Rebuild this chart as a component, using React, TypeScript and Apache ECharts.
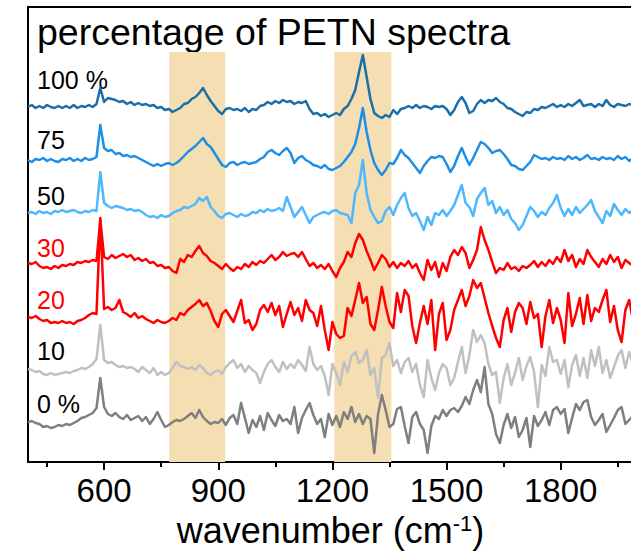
import { useEffect, useRef } from "react";
import * as echarts from "echarts";

// wavenumber sampling grid (cm^-1), 10 cm^-1 step
const wavenumber: number[] = Array.from({ length: 160 }, (_, i) => 400 + 10 * i);

const seriesLabels = ["0 %", "10", "20", "30", "50", "75", "100 %"];

// intensities (arbitrary units), one row per 100 cm^-1
const s0 = [
  0, 1, -1, -2, -5, -4, -6, -5, -3, -4,
  -2, -3, -1, 1, 4, 5, 7, 9, 14, 44,
  15, 8, 6, 9, 5, 3, 7, 2, 4, 6,
  1, 5, -2, 3, 10, 2, -5, -3, 0, 2,
  1, 3, 6, 9, 4, 12, 5, 1, -2, 0,
  -1, 3, -3, 4, 7, -2, 19, 4, -11, 2,
  -5, 6, -8, 9, 2, -4, 7, 1, 3, -2,
  15, -11, 4, 12, 19, 7, -2, 3, -15, 8,
  -3, 6, -5, 10, 3, 15, 0, 8, -2, 6,
  3, -31, 8, 27, 12, -5, -2, 13, 15, -4,
  -21, 5, 10, -2, -8, -31, -4, 6, 3, 12,
  6, 12, 14, 10, 16, 25, 18, 32, 42, 30,
  55, 18, 8, -12, -21, -3, 8, -6, 5, -15,
  -8, 4, -25, 6, -4, 2, 10, -3, 12, 15,
  8, 13, -11, 4, 18, 12, 20, 22, 5, -3,
  2, 8, -10, -3, 4, 12, 15, -2, 2, 6,
];
const s10 = [
  1, 0, -2, -1, -4, -5, -3, -5, -4, -3,
  -2, -3, -1, 0, 2, 1, 3, 6, 11, 45,
  10, 7, 8, 5, 3, 4, 2, 3, 1, -2,
  3, 0, -3, 2, -5, -2, -5, -3, 2, 8,
  4, 3, 1, 3, 0, 5, 2, -3, -5, -2,
  0, -4, 3, 7, 10, 2, 6, -2, 4, 0,
  -3, -13, -2, 6, 10, 3, -2, 8, 1, 6,
  2, 10, 5, -1, 23, 6, 0, 4, -6, -25,
  6, -3, -15, 8, -2, 14, 18, 7, 10, 20,
  -5, 2, -28, 12, 15, 27, 4, 10, -3, 8,
  12, -2, 6, -15, -27, 10, -8, -20, -3, 6,
  2, -15, -8, 8, 23, -3, 15, 40, 28, 35,
  27, 6, -5, -2, -33, -8, 6, -15, -3, 12,
  -10, 4, 13, -2, -37, 5, -6, 23, 8, 10,
  -4, 10, -17, 5, 15, -6, 12, -8, 20, 4,
  23, -3, 10, -8, 3, 14, 20, 2, 18, 6,
];
const s20 = [
  1, 0, 2, -1, -3, -2, -5, -4, -5, -3,
  -5, -4, -6, -3, -2, 0, 3, 5, 4, 100,
  9, 11, 8, 10, 18, 6, 4, 1, 5, 0,
  2, -1, -3, -5, -2, -4, -5, -3, 0, -2,
  5, 3, 8, 11, 14, 18, 12, 15, 7, -3,
  -9, 4, 8, 2, -4, 7, 18, -5, -2, -12,
  -6, 8, 13, 6, 15, 3, 12, -9, 4, 16,
  3, 10, -3, 18, 8, 5, -8, 12, -12, -32,
  -4, -16, -20, -18, 10, 2, 18, 35, 15, 21,
  -6, -12, 8, 31, 12, -4, -10, 25, 6, 28,
  22, -8, -25, -5, 12, -6, 18, -32, 4, 15,
  -22, -12, 8, 18, 28, 12, 22, 38, 30, 35,
  20, 5, -8, -20, -29, -2, 10, -14, 6, 15,
  10, -6, 16, 0, 4, -29, 2, 18, -5, 10,
  -2, -25, 25, -8, 4, 20, -6, 23, -3, 10,
  6, 18, 28, -4, 12, -12, -24, 8, 18, -3,
];
const s30 = [
  2, 1, 3, -1, -3, -2, -4, -1, -3, 0,
  -1, 1, 0, 3, 2, 4, 3, 5, 4, 45,
  8, 6, 10, 7, 9, 11, 8, 10, 5, 7,
  4, 6, 2, 3, -1, 0, -3, -2, -6, -8,
  6, 3, 10, 8, 14, 19, 12, 9, 4, 2,
  -1, -4, 1, -3, -6, -2, -4, 1, -2, 3,
  0, 4, 2, 6, 10, 5, 8, 13, 9, 11,
  12, 8, 13, 6, -1, 2, -3, 0, -4, 1,
  -6, -12, -3, 3, 13, 8, 22, 31, 25, 14,
  5, -5, 2, 10, 6, -2, 3, -3, 2, -1,
  4, -3, 1, -8, -15, 5, -5, 3, -12, 2,
  -6, 8, 15, 10, 18, 12, -3, 5, 15, 38,
  25, 15, 3, -8, -3, -5, 2, -4, -2, -6,
  -1, -3, 0, 4, -2, 3, -1, 5, 1, 8,
  3, 15, 4, 10, -2, 6, 1, 15, 8, 3,
  -2, 6, 1, 10, 3, 8, -3, 5, 2, -1,
];
const s50 = [
  0, 1, -1, 2, 0, 1, -1, 2, 1, 3,
  1, 2, 3, 1, 0, 2, 1, 3, 2, 41,
  10, 7, 5, 7, 6, 5, 3, 4, 2, 3,
  1, -2, -4, -3, -5, -2, -4, -3, 0, 2,
  3, 6, 5, 7, 9, 15, 12, 16, 6, 2,
  -3, -5, -1, 0, -2, -4, -1, -3, -2, 1,
  0, 3, 1, 4, 2, 3, 5, 2, 16, 6,
  -4, 1, 6, -2, -10, -4, -2, 0, 1, -1,
  2, 3, 0, -1, -2, -10, 20, 28, 53, 20,
  3, -4, -10, -8, 2, 6, -2, 8, 15, 20,
  5, -3, 0, -8, -17, -4, -12, 0, -2, 3,
  -3, 2, 8, 18, 28, 10, 6, -3, 14, 20,
  25, 8, 12, 0, 6, -2, 3, -6, -10, -17,
  -12, -3, 6, 2, -4, 1, -2, 5, 10, 18,
  5, -3, 4, -2, 6, 0, 4, 8, 13, 2,
  -4, -10, 2, -3, 9, 3, -2, 4, 0, 3,
];
const s75 = [
  0, -2, 1, 0, 2, -1, 1, -1, -2, 1,
  0, 2, -1, 1, -1, 2, 0, 1, 3, 35,
  12, 9, 10, 6, 7, 4, 5, 3, 4, 2,
  0, -2, -4, -6, -4, -6, -4, -3, -5, -3,
  0, 4, 8, 11, 14, 18, 22, 16, 13, 7,
  1, -5, -7, -3, -2, -5, -3, -2, -4, -3,
  -2, 1, 3, 8, 10, 7, 5, 9, 12, 7,
  -3, 2, 4, 0, -2, -5, -6, -8, -5, -9,
  -10, -8, -6, -2, 3, 8, 16, 32, 52, 28,
  10, -3, -10, -15, -10, -3, -4, 2, 10, 5,
  2, -3, -8, -13, -6, -1, 3, 2, 4, 3,
  -4, -12, -6, 4, 12, 3, -5, 2, 10, 18,
  16, 12, 7, 9, 10, 6, 1, -5, -6, -9,
  -10, -6, -2, 5, 3, 1, 2, 0, 3, 1,
  2, 0, 4, 1, 3, 0, 2, 5, 1, 2,
  0, 3, 1, 2, 0, 4, 1, 3, -1, 2,
];
const s100 = [
  0, 2, -1, 1, -1, 2, 0, -1, 1, -1,
  1, -1, 2, -1, 1, 0, 2, 0, 3, 19,
  5, 9, 8, 7, 5, 6, 3, 5, 2, 4,
  2, 3, 1, 2, -1, 0, -3, -2, -5, -3,
  -1, 3, 4, 8, 10, 14, 19, 12, 6, 1,
  -4, -7, -2, -1, -3, -2, -4, -1, -5, -2,
  -3, 1, 2, 5, 3, 6, 4, 7, 5, 6,
  3, 5, 4, 6, -2, -7, -6, -9, -7, -10,
  -8, -6, -8, -2, 1, 8, 17, 35, 52, 30,
  8, -6, -9, -11, -8, -10, -3, -7, -2, -1,
  1, -1, 2, -1, 1, 0, -2, 1, 0, 1,
  -2, -8, -3, 5, 10, 4, -6, -4, 3, 7,
  4, 7, 6, 9, 5, 3, -1, -2, -5, -7,
  -9, -5, -6, -2, -3, 0, -1, 1, 3, 0,
  2, 0, 3, 1, 4, 7, 1, 2, 3, 0,
  3, 1, 7, 2, 0, 3, 2, 1, 3, 2,
];

const spectra = [s0, s10, s20, s30, s50, s75, s100];
// vertical stacking offsets of the spectra
const offsets = [40, 92, 144, 197, 249, 302, 355];

const majorTicks = [600, 900, 1200, 1500, 1800];
const minorTicks = [450, 750, 1050, 1350, 1650, 1950];
// highlighted wavenumber bands
const bands: [number, number][] = [
  [771, 918],
  [1205, 1355],
];
const bandTop = 410;

const lineColors = ["#7f7f7f", "#c0c0c0", "#ff0000", "#ff0000", "#4db8ff", "#1e8fe6", "#1a6eaa"];
const labelColors = ["#000", "#000", "#ff0000", "#ff0000", "#000", "#000", "#000"];
const labelTops = [405, 352, 301, 249, 197, 141, 81];

const FONT = "'Liberation Sans', Arial, sans-serif";

export default function App() {
  const ref = useRef<HTMLDivElement>(null);
  useEffect(() => {
    if (!ref.current) return;
    const chart = echarts.init(ref.current, undefined, { renderer: "svg" });
    const lineSeries = spectra.map((vals, k) => ({
      type: "line",
      name: seriesLabels[k],
      data: wavenumber.map((x, i) => [x, offsets[k] + vals[i]]),
      showSymbol: false,
      symbol: "none",
      silent: true,
      z: 2,
      lineStyle: { width: 2.5, color: lineColors[k], join: "round" },
      itemStyle: { color: lineColors[k] },
    }));
    chart.setOption({
      animation: false,
      grid: {
        left: 28,
        right: -2,
        top: 7,
        bottom: 92,
        show: true,
        borderColor: "#000",
        borderWidth: 2,
        containLabel: false,
        outerBoundsMode: "none",
      },
      xAxis: [
        {
          type: "value",
          min: 400,
          max: 1990,
          position: "bottom",
          axisLine: { show: false },
          splitLine: { show: false },
          axisTick: {
            show: true,
            length: 8,
            customValues: majorTicks,
            lineStyle: { color: "#000", width: 2 },
          },
          axisLabel: {
            customValues: majorTicks,
            formatter: (v: number) => String(v),
            fontSize: 33,
            color: "#000",
            margin: 12,
            fontFamily: FONT,
          },
          name: "wavenumber (cm{sup|-1})",
          nameLocation: "middle",
          nameGap: 50,
          nameTextStyle: {
            fontSize: 36,
            color: "#000",
            fontFamily: FONT,
            rich: {
              sup: { fontSize: 22, color: "#000", fontFamily: FONT, verticalAlign: "top" },
            },
          },
        },
        {
          type: "value",
          min: 400,
          max: 1990,
          position: "bottom",
          axisLine: { show: false },
          splitLine: { show: false },
          axisTick: {
            show: true,
            length: 5,
            customValues: minorTicks,
            lineStyle: { color: "#000", width: 2 },
          },
          axisLabel: { show: false },
        },
      ],
      yAxis: { type: "value", min: 0, max: 455, show: false },
      series: [
        {
          type: "line",
          data: [],
          silent: true,
          z: 1,
          markArea: {
            silent: true,
            itemStyle: { color: "#f5dfb2" },
            data: bands.map(([a, b]) => [
              { xAxis: a, yAxis: bandTop },
              { xAxis: b, yAxis: 0 },
            ]),
          },
        },
        ...lineSeries,
      ],
      graphic: [
        {
          type: "text",
          left: 37,
          top: 13,
          style: {
            text: "percentage of PETN spectra",
            fontSize: 37.5,
            fontFamily: FONT,
            fill: "#000",
          },
        },
        ...seriesLabels.map((t, k) => ({
          type: "text",
          left: 37,
          top: labelTops[k] - 14,
          style: { text: t, fontSize: 25, fontFamily: FONT, fill: labelColors[k] },
        })),
      ],
    });
    return () => chart.dispose();
  }, []);
  return (
    <div
      ref={ref}
      style={{ position: "fixed", left: 0, top: 0, width: 631, height: 554, background: "#fff" }}
    />
  );
}
